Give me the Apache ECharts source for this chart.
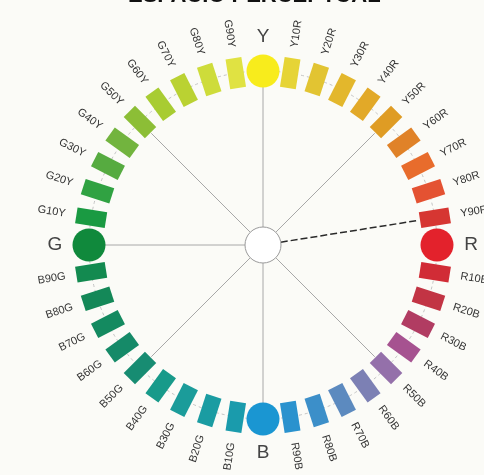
<!DOCTYPE html>
<html><head><meta charset="utf-8">
<script src="https://cdn.jsdelivr.net/npm/echarts@6/dist/echarts.min.js"></script>
<style>html,body{margin:0;padding:0;background:#fbfbf7}#c{width:484px;height:475px}</style>
</head><body><div id="c"></div>
<script>
// NCS hue circle, clockwise from the top
const hues = ['Y','Y10R','Y20R','Y30R','Y40R','Y50R','Y60R','Y70R','Y80R','Y90R',
  'R','R10B','R20B','R30B','R40B','R50B','R60B','R70B','R80B','R90B',
  'B','B10G','B20G','B30G','B40G','B50G','B60G','B70G','B80G','B90G',
  'G','G10Y','G20Y','G30Y','G40Y','G50Y','G60Y','G70Y','G80Y','G90Y'];
const hueColors = ['#f8ec1c','#e6d436','#e2c432','#e3b72c','#e2a928','#df9c24','#e08228','#e86c2c','#e45232','#d63632',
  '#e3222c','#d12c36','#c23444','#b13c62','#a65290','#9470aa','#7c80b4','#5c8abf','#3c8fc9','#2a92ce',
  '#1a96d2','#1a9bac','#1a9ca2','#1b9c9a','#189a8a','#178c72','#158a68','#148a60','#148858','#138a50',
  '#10893c','#1a9a42','#30a242','#56ab40','#72b43e','#8cbe36','#a8cc32','#bad232','#cedc3a','#e0e242'];
const primaries = ['Y','R','B','G'];
const spokeHues = ['Y','Y50R','R50B','B','B50G','G','G50Y'];
const accentHue = 'Y90R';
const titleText = 'ESPACIO PERCEPTUAL';

const RING_R = 174, HUB_R = 18, SPOKE_END = 158, LABEL_R = 200, BIG_LABEL_R = 208;
const FONT = '"Liberation Sans", Arial, sans-serif';

function norm(p, cs) {
  let a = Math.atan2(p[0] - cs.cx, cs.cy - p[1]);
  if (a < 0) a += Math.PI * 2;
  return a;
}

function renderSwatch(params, api) {
  const idx = api.value(1);
  const cs = params.coordSys;
  const name = hues[idx];
  const color = hueColors[idx];
  const p = api.coord([RING_R, idx]);
  const ang = norm(p, cs);
  const children = [];
  if (primaries.indexOf(name) >= 0) {
    const lp = api.coord([BIG_LABEL_R, idx]);
    children.push({type: 'circle', shape: {cx: p[0], cy: p[1], r: 16.5}, style: {fill: color}});
    children.push({type: 'text', x: lp[0], y: lp[1], style: {text: name, fontSize: 19, fontFamily: FONT, fill: '#444', align: 'center', verticalAlign: 'middle'}});
  } else {
    const lp = api.coord([LABEL_R, idx]);
    children.push({type: 'rect', x: p[0], y: p[1], rotation: -ang,
      shape: {x: -8, y: -15, width: 16, height: 30}, style: {fill: color}});
    const deg = ang * 180 / Math.PI;
    let rot, align;
    if (deg < 180) { rot = 90 - deg; align = 'left'; } else { rot = 270 - deg; align = 'right'; }
    children.push({type: 'text', x: lp[0], y: lp[1], rotation: rot * Math.PI / 180,
      style: {text: name, fontSize: 11, fontFamily: FONT, fill: '#333', align: align, verticalAlign: 'middle'}});
  }
  return {type: 'group', children: children};
}

function renderSpoke(params, api) {
  const idx = api.value(1);
  const a = api.coord([HUB_R, idx]);
  const b = api.coord([SPOKE_END, idx]);
  const accent = hues[idx] === accentHue;
  return {type: 'line', shape: {x1: a[0], y1: a[1], x2: b[0], y2: b[1]},
    style: accent ? {stroke: '#2a2a2a', lineWidth: 1.5, lineDash: [7, 3]} : {stroke: '#a8a8a8', lineWidth: 1}};
}

function renderRing(params, api) {
  const cs = params.coordSys;
  const p = api.coord([RING_R, 0]);
  const r = Math.hypot(p[0] - cs.cx, p[1] - cs.cy);
  return {type: 'circle', shape: {cx: cs.cx, cy: cs.cy, r: r}, style: {fill: 'none', stroke: '#c4c4c4', lineWidth: 1, lineDash: [3, 3]}};
}

function renderHub(params, api) {
  const cs = params.coordSys;
  const p = api.coord([HUB_R, 0]);
  const r = Math.hypot(p[0] - cs.cx, p[1] - cs.cy);
  return {type: 'circle', shape: {cx: cs.cx, cy: cs.cy, r: r}, style: {fill: '#ffffff', stroke: '#9a9a9a', lineWidth: 1}};
}

const chart = echarts.init(document.getElementById('c'), null, {renderer: 'canvas'});
chart.setOption({
  backgroundColor: '#fbfbf7',
  animation: false,
  title: {text: titleText, left: 128, top: -15, padding: 0,
    textStyle: {fontSize: 22, fontWeight: 'bold', color: '#111', fontFamily: FONT}},
  polar: {center: [263, 245], radius: 240},
  radiusAxis: {type: 'value', min: 0, max: 240, show: false},
  angleAxis: {type: 'category', data: hues, boundaryGap: false, startAngle: 90, clockwise: true, show: false},
  series: [
    {type: 'custom', coordinateSystem: 'polar', renderItem: renderRing, data: [[RING_R, hues[0]]], silent: true},
    {type: 'custom', coordinateSystem: 'polar', renderItem: renderSpoke,
      data: spokeHues.concat([accentHue]).map(h => [SPOKE_END, h]), silent: true},
    {type: 'custom', coordinateSystem: 'polar', renderItem: renderHub, data: [[HUB_R, hues[0]]], silent: true},
    {type: 'custom', coordinateSystem: 'polar', renderItem: renderSwatch,
      data: hues.map(h => [RING_R, h]), silent: true}
  ]
});
</script></body></html>
